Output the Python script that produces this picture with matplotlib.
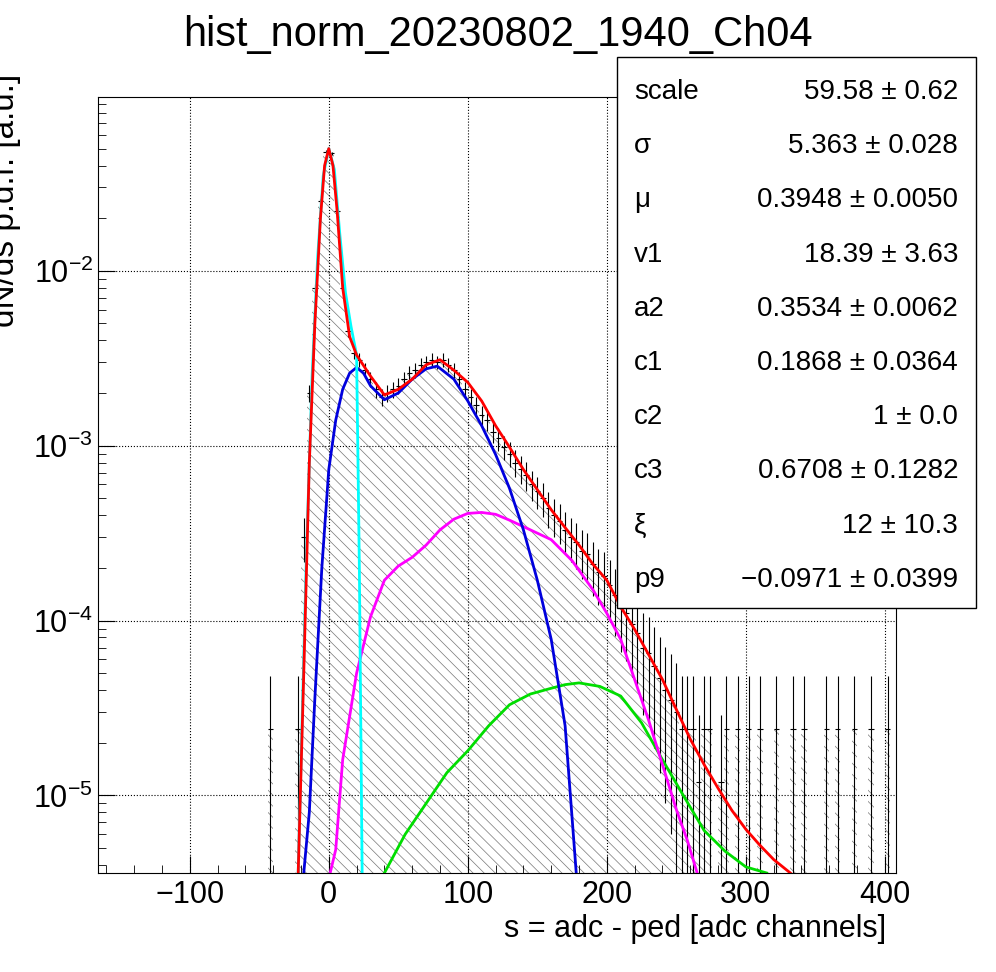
import numpy as np
import matplotlib
matplotlib.use("Agg")
import matplotlib.pyplot as plt
from matplotlib.ticker import MultipleLocator, LogLocator, NullFormatter

plt.rcParams['font.family'] = ['Liberation Sans', 'DejaVu Sans']
plt.rcParams['hatch.linewidth'] = 0.5

bin_width = 4
bin_centers = list(range(-42, 407, 4))
hist_vals = [
    2.4e-5, 0, 0, 0, 0, 2.4e-5, 3e-4, 2e-3, 8e-3, 0.025, 0.048, 0.047, 0.022, 0.008, 0.0045,
    0.0034, 0.0031, 0.0027, 0.0024, 0.0021, 0.0019, 0.0020, 0.0021, 0.0022, 0.0024, 0.0026,
    0.0027, 0.0029, 0.0030, 0.0031, 0.0030, 0.0031, 0.0029, 0.0027, 0.0024, 0.0021, 0.0019,
    0.0017, 0.0015, 0.0014, 0.0012, 0.0011, 0.00098, 0.00090, 0.00080, 0.00074, 0.00068,
    0.00060, 0.00055, 0.00050, 0.00044, 0.00040, 0.00037, 0.00033, 0.00030, 0.00028, 0.00025,
    0.00024, 0.00021, 0.00019, 0.00018, 0.00016, 0.00014, 0.00012, 0.00011, 9.5e-5, 8.5e-5,
    7e-5, 6.5e-5, 5.5e-5, 4.7e-5, 4.0e-5, 3.5e-5, 3.0e-5, 2.4e-5, 2.4e-5, 2.4e-5, 1.2e-5,
    2.4e-5, 2.4e-5, 0, 1.2e-5, 2.4e-5, 0, 2.4e-5, 0, 2.4e-5, 0, 2.4e-5, 0, 0, 2.4e-5, 0, 0,
    2.4e-5, 0, 2.4e-5, 0, 0, 0, 2.4e-5, 0, 2.4e-5, 0, 0, 2.4e-5, 0, 0, 2.4e-5, 0, 0, 2.4e-5, 0,
]
single_count = 2.4e-5

red_x = [-22, -18, -14, -10, -6, -3, 0, 3, 6, 10, 15, 20, 30, 40, 50, 60, 70, 80, 90, 100,
         110, 120, 130, 140, 150, 160, 170, 180, 190, 200, 210, 220, 230, 240, 250, 260, 270,
         280, 290, 300, 310, 320, 332]
red_y = [3.6e-6, 5e-5, 8e-4, 5e-3, 0.02, 0.04, 0.05, 0.04, 0.022, 0.008, 0.0042, 0.0033,
         0.0025, 0.00195, 0.0021, 0.0024, 0.0029, 0.0031, 0.0027, 0.0023, 0.0018, 0.0013,
         0.00098, 0.00073, 0.00056, 0.00043, 0.00034, 0.00027, 0.00021, 0.00017, 0.00012,
         8.9e-5, 6.4e-5, 4.6e-5, 3.1e-5, 2.1e-5, 1.5e-5, 1.1e-5, 8.2e-6, 6.4e-6, 5.2e-6,
         4.3e-6, 3.6e-6]
cyan_x = [-22, -20, -16, -12, -8, -4, 0, 4, 8, 12, 16, 20, 22, 24]
cyan_y = [3.6e-6, 1.5e-5, 2.5e-4, 2.5e-3, 0.012, 0.035, 0.05, 0.038, 0.016, 0.0075, 0.0048,
          0.0033, 2e-4, 3.6e-6]
blue_x = [-18, -14, -10, -5, 0, 5, 10, 15, 20, 25, 30, 40, 50, 60, 70, 78, 90, 100, 110, 120,
          130, 140, 150, 160, 170, 178]
blue_y = [3.6e-6, 8e-6, 3.6e-5, 2e-4, 7.3e-4, 1.4e-3, 2.1e-3, 2.6e-3, 2.8e-3, 2.6e-3,
          2.2e-3, 1.83e-3, 2.0e-3, 2.4e-3, 2.75e-3, 2.85e-3, 2.4e-3, 1.8e-3, 1.3e-3, 8.9e-4,
          5.7e-4, 3.3e-4, 1.7e-4, 7.8e-5, 2.5e-5, 3.6e-6]
mag_x = [1, 5, 10, 20, 30, 40, 50, 60, 70, 80, 90, 100, 110, 120, 130, 145, 160, 175, 190,
         200, 210, 220, 230, 240, 250, 258, 265]
mag_y = [3.6e-6, 4.9e-6, 1.6e-5, 5e-5, 1.05e-4, 1.7e-4, 2.05e-4, 2.3e-4, 2.7e-4, 3.3e-4,
         3.8e-4, 4.1e-4, 4.15e-4, 4.05e-4, 3.75e-4, 3.3e-4, 2.9e-4, 2.2e-4, 1.5e-4, 1.1e-4,
         7.8e-5, 4.6e-5, 2.7e-5, 1.5e-5, 8.3e-6, 5.5e-6, 3.6e-6]
green_x = [40, 55, 72, 85, 100, 115, 130, 145, 160, 170, 180, 195, 210, 225, 240, 255, 270,
           285, 300, 315]
green_y = [3.6e-6, 6e-6, 9.5e-6, 1.35e-5, 1.8e-5, 2.5e-5, 3.3e-5, 3.8e-5, 4.1e-5, 4.3e-5,
           4.4e-5, 4.2e-5, 3.7e-5, 2.6e-5, 1.6e-5, 1.0e-5, 6.3e-6, 4.8e-6, 3.9e-6, 3.6e-6]

stat_names = ["scale", "σ", "μ", "v1", "a2", "c1", "c2", "c3", "ξ", "p9"]
stat_vals = ["59.58 ± 0.62", "5.363 ± 0.028", "0.3948 ± 0.0050", "18.39 ± 3.63",
             "0.3534 ± 0.0062", "0.1868 ± 0.0364", "1 ± 0.0", "0.6708 ± 0.1282",
             "12 ± 10.3", "−0.0971 ± 0.0399"]

W, H = 996, 972
fig = plt.figure(figsize=(W / 100, H / 100), dpi=100)
ax = fig.add_axes([98 / W, 1 - 873 / H, (896 - 98) / W, (873 - 97) / H])
ymin, ymax = 3.6e-6, 0.0986

xc = np.array(bin_centers, float)
hv = np.array(hist_vals, float)
edges = np.append(xc - bin_width / 2, xc[-1] + bin_width / 2)
hstep = np.where(hv > 0, hv, ymin * 0.5)
ax.stairs(hstep, edges, baseline=ymin * 0.5, fill=True, facecolor='none',
          edgecolor='#777777', hatch='\\\\\\', linewidth=0)
err = np.sqrt(np.maximum(hv, 0) * single_count)
nz = hv > 0
lo = np.minimum(err[nz], hv[nz] - ymin * 0.5)
ax.errorbar(xc[nz], hv[nz], yerr=[lo, err[nz]], fmt='none', ecolor='black', elinewidth=0.8)
ax.hlines(hv[nz], xc[nz] - bin_width / 2, xc[nz] + bin_width / 2, color='black', lw=0.8)

for xs, ys, c in [(green_x, green_y, '#00dd00'), (mag_x, mag_y, 'magenta'),
                  (blue_x, blue_y, '#0000dd'), (cyan_x, cyan_y, 'cyan')]:
    ax.plot(xs, ys, color=c, lw=2)
ax.plot(red_x, red_y, color='red', lw=2)

ax.set_yscale('log')
ax.set_xlim(-166, 408)
ax.set_ylim(ymin, ymax)
ax.xaxis.set_major_locator(MultipleLocator(100))
ax.xaxis.set_minor_locator(MultipleLocator(20))
ax.yaxis.set_major_locator(LogLocator(10, numticks=20))
ax.yaxis.set_minor_locator(LogLocator(10, subs=np.arange(2, 10), numticks=50))
ax.yaxis.set_minor_formatter(NullFormatter())
ax.tick_params(which='both', direction='in', top=False, right=False, labelsize=22)
ax.tick_params(which='major', length=12)
ax.tick_params(which='minor', length=6)
ax.tick_params(axis='x', pad=5)
ax.grid(True, which='major', linestyle=':', color='black', lw=0.8)
ax.set_xlabel("s = adc - ped [adc channels]", fontsize=22, loc='right', labelpad=0)
ax.xaxis.set_label_coords(0.987, -0.053)
ax.xaxis.label.set_va('top')
ax.set_ylabel("dN/ds p.d.f. [a.u.]", fontsize=24, loc='top')
ax.yaxis.set_label_coords(-0.097, 1.03)
fig.text(0.5, 1 - 35 / H, "hist_norm_20230802_1940_Ch04", ha='center', va='center', fontsize=30)

bx0, by0, bx1, by1 = 617, 57, 976, 608
box = plt.Rectangle((bx0 / W, 1 - by1 / H), (bx1 - bx0) / W, (by1 - by0) / H,
                    transform=fig.transFigure, facecolor='white', edgecolor='black', lw=1)
fig.add_artist(box)
for i, (n, v) in enumerate(zip(stat_names, stat_vals)):
    y = 1 - (92 + i * 54.2) / H
    fig.text(634 / W, y, n, ha='left', va='center', fontsize=20)
    fig.text(958 / W, y, v, ha='right', va='center', fontsize=20)

fig.savefig("out.png", dpi=100)
